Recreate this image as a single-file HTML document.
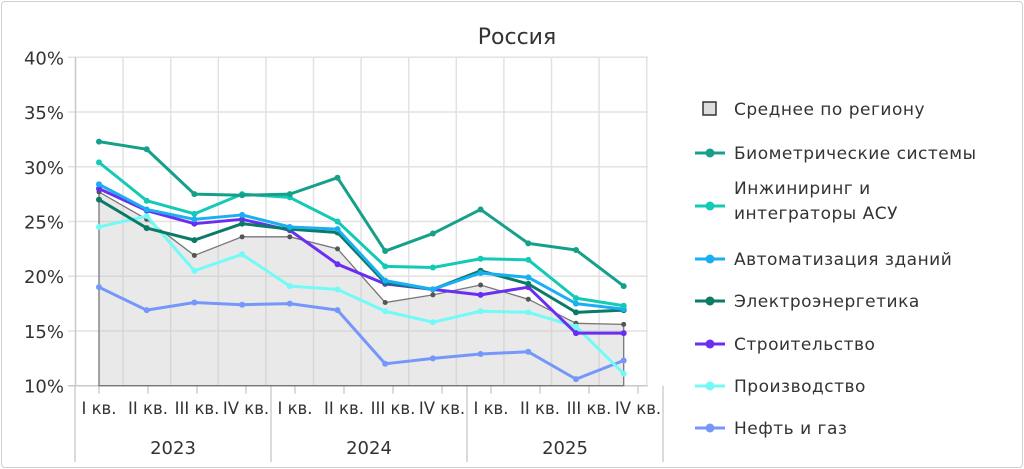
<!DOCTYPE html>
<html><head><meta charset="utf-8">
<style>
html,body{margin:0;padding:0;background:#fff;}
body{width:1024px;height:469px;overflow:hidden;font-family:"DejaVu Sans",sans-serif;}
#frame{position:absolute;left:1px;top:1px;width:1020px;height:465px;border:1px solid #d0d0d0;border-radius:4px;}
svg{position:absolute;left:0;top:0;}
</style></head>
<body>
<div id="frame"></div>
<svg id="chart" width="1024" height="469" font-family="DejaVu Sans, sans-serif"></svg>
<script>
const categories=["I кв.","II кв.","III кв.","IV кв.","I кв.","II кв.","III кв.","IV кв.","I кв.","II кв.","III кв.","IV кв."];
const years=["2023","2024","2025"];
const yTicks=[10,15,20,25,30,35,40];
const avgValues=[27.7,25.2,21.9,23.6,23.6,22.5,17.6,18.3,19.2,17.9,15.7,15.6];
const bioValues=[32.3,31.6,27.5,27.4,27.5,29.0,22.3,23.9,26.1,23.0,22.4,19.1];
const engValues=[30.4,26.9,25.7,27.5,27.2,25.0,20.9,20.8,21.6,21.5,18.0,17.3];
const autoValues=[28.4,26.1,25.2,25.6,24.5,24.3,19.6,18.8,20.3,19.9,17.5,17.0];
const elecValues=[27.0,24.4,23.3,24.8,24.3,24.0,19.4,18.8,20.5,19.3,16.7,16.9];
const buildValues=[28.0,26.0,24.8,25.2,24.2,21.1,19.3,18.8,18.3,19.0,14.8,14.8];
const prodValues=[24.5,25.5,20.5,22.0,19.1,18.8,16.8,15.8,16.8,16.7,15.4,11.1];
const oilValues=[19.0,16.9,17.6,17.4,17.5,16.9,12.0,12.5,12.9,13.1,10.6,12.3];
const seriesNames=["Биометрические системы","Инжиниринг и интеграторы АСУ","Автоматизация зданий","Электроэнергетика","Строительство","Производство","Нефть и газ"];
const seriesColors=["#16a08a","#14c9b6","#1aaef2","#0b7a66","#6a2ef2","#72fbf6","#7597fa"];
const seriesData=[bioValues,engValues,autoValues,elecValues,buildValues,prodValues,oilValues];
const seriesKeys=["biometric","engineering","automation","electric","construction","production","oil-gas"];

const NS="http://www.w3.org/2000/svg";
const svg=document.getElementById('chart');
function el(tag,attrs,parent){const e=document.createElementNS(NS,tag);for(const k in attrs)e.setAttribute(k,attrs[k]);(parent||svg).appendChild(e);return e;}
const yMin=10,yMax=40,yTop=57.3,yBot=385.7;
function yScale(v){return yBot-(v-yMin)/(yMax-yMin)*(yBot-yTop);}
function xScale(i){return 99+i*47.7;}

const title=el('text',{x:517,y:44,'text-anchor':'middle','font-size':22,fill:'#333'});
title.textContent="Россия";



for(const t of yTicks){
  const y=yScale(t);
  const g=el('line',{x1:68,x2:648,y1:y,y2:y,stroke:t===10?'#c8c8c8':'#e2e2e2','stroke-width':1.5});
  
  
  const lb=el('text',{x:64,y:y+7,'text-anchor':'end','font-size':18,fill:'#333'});
  lb.textContent=t+"%";
  
  
}
for(let k=0;k<13;k++){
  const x=75.5+k*47.6;
  const g=el('line',{x1:x,x2:x,y1:yTop,y2:yBot,stroke:k===0?'#c8c8c8':'#e2e2e2','stroke-width':1.5});
  
  
}
el('line',{x1:75,x2:75,y1:yBot,y2:462,stroke:'#cfcfcf','stroke-width':1.5});
for(let i=0;i<categories.length;i++){
  const tx=99+i*49;
  el('line',{x1:tx,x2:tx,y1:yBot,y2:yBot+8,stroke:'#cfcfcf','stroke-width':1.5});
  const lb=el('text',{x:tx,y:414,'text-anchor':'middle','font-size':16.5,fill:'#333'});
  lb.textContent=categories[i];
  
  
}
for(let j=0;j<years.length;j++){
  const x0=75+j*196;
  el('line',{x1:x0+196,x2:x0+196,y1:yBot,y2:462,stroke:'#cfcfcf','stroke-width':1.5});
  const lb=el('text',{x:x0+98,y:454,'text-anchor':'middle','font-size':18,fill:'#333'});
  lb.textContent=years[j];
  
  
}
let d="M"+xScale(0)+","+yBot;
avgValues.forEach((v,i)=>{d+=" L"+xScale(i)+","+yScale(v);});
d+=" L"+xScale(avgValues.length-1)+","+yBot+" Z";
const area=el('path',{d:d,fill:'rgba(200,200,200,0.4)',stroke:'#777','stroke-width':1.3});


avgValues.forEach((v,i)=>{const c=el('circle',{cx:xScale(i),cy:yScale(v),r:2.5,fill:'#555'});

});
for(let s=seriesData.length-1;s>=0;s--){
  const vals=seriesData[s];
  const pts=vals.map((v,i)=>xScale(i)+","+yScale(v)).join(" ");
  const pl=el('polyline',{points:pts,fill:'none',stroke:seriesColors[s],'stroke-width':3,'stroke-linejoin':'round'});
  
  
  vals.forEach((v,i)=>{const c=el('circle',{cx:xScale(i),cy:yScale(v),r:3,fill:seriesColors[s]});
  
  });
}
const lg=el('g',{});


el('rect',{x:703,y:102,width:13,height:13,fill:'#ddd',stroke:'#333','stroke-width':1.5},lg);
const t0=el('text',{x:734,y:115,'font-size':17,fill:'#333','letter-spacing':0.5},lg);
t0.textContent="Среднее по региону";


const rowsY=[153,206,259,301,344,386,428];
for(let s=0;s<seriesNames.length;s++){
  const y=rowsY[s];
  el('line',{x1:695,x2:725,y1:y,y2:y,stroke:seriesColors[s],'stroke-width':3},lg);
  el('circle',{cx:710,cy:y,r:4.5,fill:seriesColors[s]},lg);
  const t=el('text',{x:734,y:y+6,'font-size':17,fill:'#333','letter-spacing':0.5},lg);
  
  
  if(s===1){
    const a=el('tspan',{x:734,y:194},t);a.textContent="Инжиниринг и";
    const b=el('tspan',{x:734,y:219},t);b.textContent="интеграторы АСУ";
  } else t.textContent=seriesNames[s];
}
</script>
</body></html>
